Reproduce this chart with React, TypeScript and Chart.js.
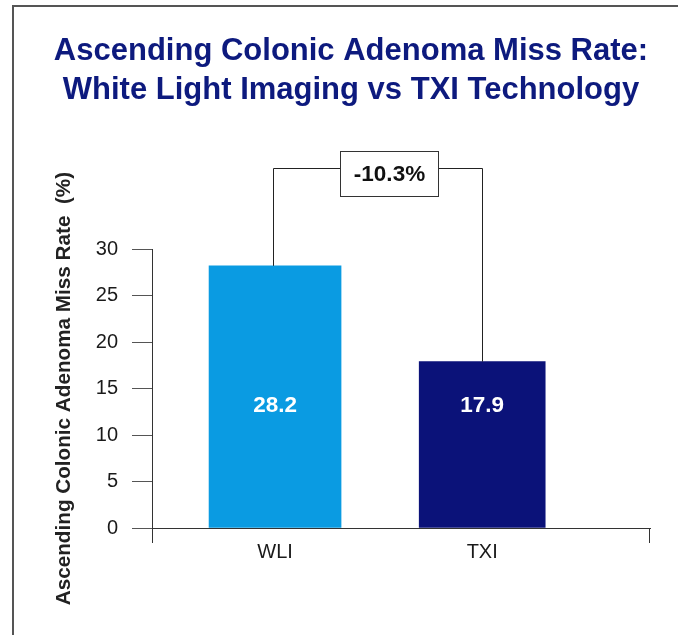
import React, { useEffect, useRef } from 'react';
import { Chart, registerables } from 'chart.js';

Chart.register(...registerables);

// ---- data ----
const titleLines = ['Ascending Colonic Adenoma Miss Rate:', 'White Light Imaging vs TXI Technology'];
const categories = ['WLI', 'TXI'];
const missRates = [28.2, 17.9];
const yTickValues = [0, 5, 10, 15, 20, 25, 30];
const yAxisTitle = 'Ascending Colonic Adenoma Miss Rate  (%)';
const differenceLabel = '-10.3%';

// ---- styles ----
const barColors = ['#0a9be2', '#0b1279'];
const barWidths = [132, 126];
const FONT = '"Liberation Sans", Arial, Helvetica, sans-serif';

const annotationPlugin = {
  id: 'annotations',
  afterDatasetsDraw(chart: any) {
    const ctx = chart.ctx;
    const xs = chart.scales.x;
    const ys = chart.scales.y;
    const els = categories.map((_, i) => chart.getDatasetMeta(i).data[0]);

    ctx.save();
    // value labels inside bars
    ctx.fillStyle = '#ffffff';
    ctx.font = `bold 22.5px ${FONT}`;
    ctx.textAlign = 'center';
    ctx.textBaseline = 'middle';
    const labelY = ys.getPixelForValue(13.1);
    els.forEach((el: any, i: number) => {
      ctx.fillText(missRates[i].toFixed(1), el.x, labelY);
    });

    // bracket
    const by = Math.round(ys.getPixelForValue(38.7)) + 0.5;
    const x0 = Math.round(els[0].x) - 1.5;
    const x1 = Math.round(els[1].x) + 0.5;
    ctx.strokeStyle = '#222';
    ctx.lineWidth = 1;
    ctx.beginPath();
    ctx.moveTo(x0, els[0].y);
    ctx.lineTo(x0, by);
    ctx.lineTo(x1, by);
    ctx.lineTo(x1, els[1].y);
    ctx.stroke();

    // difference box
    const bxc = xs.getPixelForValue(1.551);
    const bw = 98;
    const bh = 45;
    const bl = Math.round(bxc - bw / 2) + 0.5;
    const bt = Math.round(by - 18) + 0.5;
    ctx.fillStyle = '#ffffff';
    ctx.fillRect(bl, bt, bw, bh);
    ctx.strokeStyle = '#333';
    ctx.strokeRect(bl, bt, bw, bh);
    ctx.fillStyle = '#111';
    ctx.font = `bold 22.5px ${FONT}`;
    ctx.fillText(differenceLabel, bl + bw / 2, bt + bh / 2 + 1);

    // end ticks of the x axis
    const bottom = Math.round(xs.top);
    ctx.strokeStyle = '#333';
    ctx.beginPath();
    ctx.moveTo(Math.round(xs.left) + 0.5, bottom);
    ctx.lineTo(Math.round(xs.left) + 0.5, bottom + 15);
    ctx.moveTo(Math.round(xs.right) - 0.5, bottom);
    ctx.lineTo(Math.round(xs.right) - 0.5, bottom + 15);
    ctx.stroke();
    ctx.restore();
  },
};

export default function App() {
  const canvasRef = useRef<HTMLCanvasElement | null>(null);

  useEffect(() => {
    const canvas = canvasRef.current;
    if (!canvas) return;
    const chart = new Chart(canvas, {
      type: 'bar',
      data: {
        datasets: categories.map((c, i) => ({
          label: c,
          data: [{ x: i + 1, y: missRates[i] }],
          backgroundColor: barColors[i],
          barThickness: barWidths[i],
          borderWidth: 0,
        })),
      } as any,
      options: {
        animation: false,
        responsive: false,
        events: [],
        layout: { padding: { top: 20, left: 52, right: 28, bottom: 47 } },
        plugins: {
          legend: { display: false },
          tooltip: { enabled: false },
          title: {
            display: true,
            text: titleLines,
            color: '#0d1a7e',
            font: { family: FONT, size: 31, weight: 'bold', lineHeight: 1.26 },
            padding: { top: 12, bottom: 139 },
          },
        },
        scales: {
          x: {
            type: 'linear',
            min: 0.406,
            max: 2.81,
            offset: false,
            bounds: 'data',
            stacked: true,
            afterBuildTicks: (scale: any) => {
              scale.ticks = categories.map((_, i) => ({ value: i + 1 }));
            },
            afterFit: (scale: any) => {
              scale.height = 60;
            },
            ticks: {
              callback: (v: any) => categories[Number(v) - 1] ?? '',
              color: '#1a1a1a',
              font: { family: FONT, size: 20 },
              padding: 12,
              maxRotation: 0,
              autoSkip: false,
            },
            grid: { display: false, drawTicks: false },
            border: { display: true, color: '#333', width: 1 },
          },
          y: {
            min: 0,
            max: 30,
            afterBuildTicks: (scale: any) => {
              scale.ticks = yTickValues.map((v) => ({ value: v }));
            },
            afterFit: (scale: any) => {
              scale.width = 100;
            },
            ticks: {
              color: '#1a1a1a',
              font: { family: FONT, size: 20 },
              padding: 14,
            },
            grid: {
              display: true,
              drawOnChartArea: false,
              drawTicks: true,
              tickLength: 20,
              color: '#555',
              lineWidth: 1,
            },
            border: { display: true, color: '#333', width: 1 },
            title: {
              display: true,
              text: yAxisTitle,
              color: '#222',
              font: { family: FONT, size: 20.7, weight: 'bold', lineHeight: 1.2 },
              padding: { top: 0, bottom: 0 },
            },
          },
        },
      } as any,
      plugins: [annotationPlugin],
    });
    return () => chart.destroy();
  }, []);

  return (
    <div style={{ position: 'fixed', left: 0, top: 0, width: 678, height: 635, background: '#fff', overflow: 'hidden' }}>
      <div
        style={{
          position: 'absolute',
          left: 12,
          top: 5,
          right: -10,
          bottom: -10,
          borderTop: '2px solid #555',
          borderLeft: '2px solid #555',
        }}
      />
      <canvas ref={canvasRef} width={678} height={635} style={{ position: 'absolute', left: 0, top: 0 }} />
    </div>
  );
}
